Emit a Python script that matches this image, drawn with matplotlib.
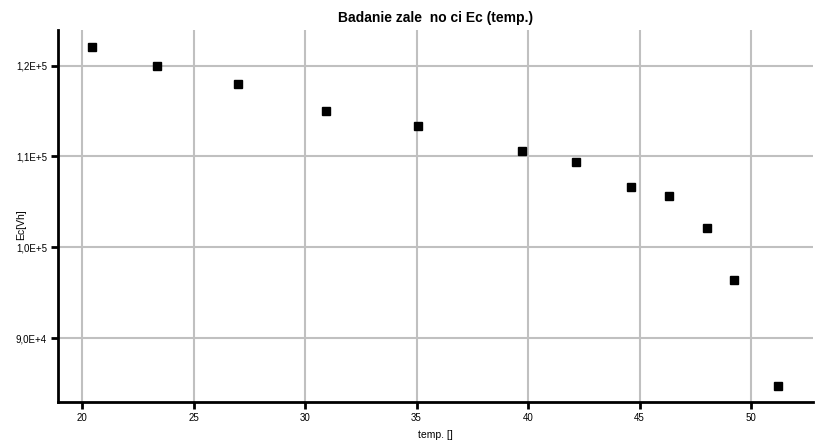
import matplotlib.pyplot as plt
from matplotlib.ticker import FuncFormatter

plt.rcParams['font.family'] = ['Liberation Sans', 'DejaVu Sans']

temp = [20.43, 23.35, 27.01, 30.94, 35.07, 39.72, 42.15, 44.62, 46.34, 48.03, 49.24, 51.21]
ec = [122000, 120000, 118000, 115000, 113300, 110550, 109400, 106600, 105650, 102100, 96400, 84700]

x_ticks = [20, 25, 30, 35, 40, 45, 50]
y_ticks = [90000, 100000, 110000, 120000]


def sci_comma(v, pos):
    s = '%.1E' % v
    mant, exp = s.split('E')
    return mant.replace('.', ',') + 'E+' + str(int(exp))


fig = plt.figure(figsize=(8.29, 4.46), dpi=100)
ax = fig.add_axes([58 / 829, 44 / 446, 755 / 829, 372 / 446])

ax.plot(temp, ec, 's', color='black', ms=6, zorder=3)

ax.set_xlim(18.92, 52.78)
ax.set_ylim(82970, 123920)
ax.set_xticks(x_ticks)
ax.set_yticks(y_ticks)
ax.yaxis.set_major_formatter(FuncFormatter(sci_comma))

ax.grid(True, color='#c0c0c0', lw=1.5)
ax.set_axisbelow(True)
for s in ['top', 'right']:
    ax.spines[s].set_visible(False)
for s in ['left', 'bottom']:
    ax.spines[s].set_linewidth(2)
ax.tick_params(length=5, width=2, labelsize=7, pad=3)

ax.set_title('Badanie zale  no ci Ec (temp.)', fontsize=10, fontweight='bold', pad=6)
ax.set_xlabel('temp. []', fontsize=7.5)
ax.xaxis.set_label_coords(0.5, -0.075)
ax.set_ylabel('Ec[Vh]', fontsize=7.5)
ax.yaxis.set_label_coords(-0.042, 0.476)

fig.savefig('out.png', dpi=100)
